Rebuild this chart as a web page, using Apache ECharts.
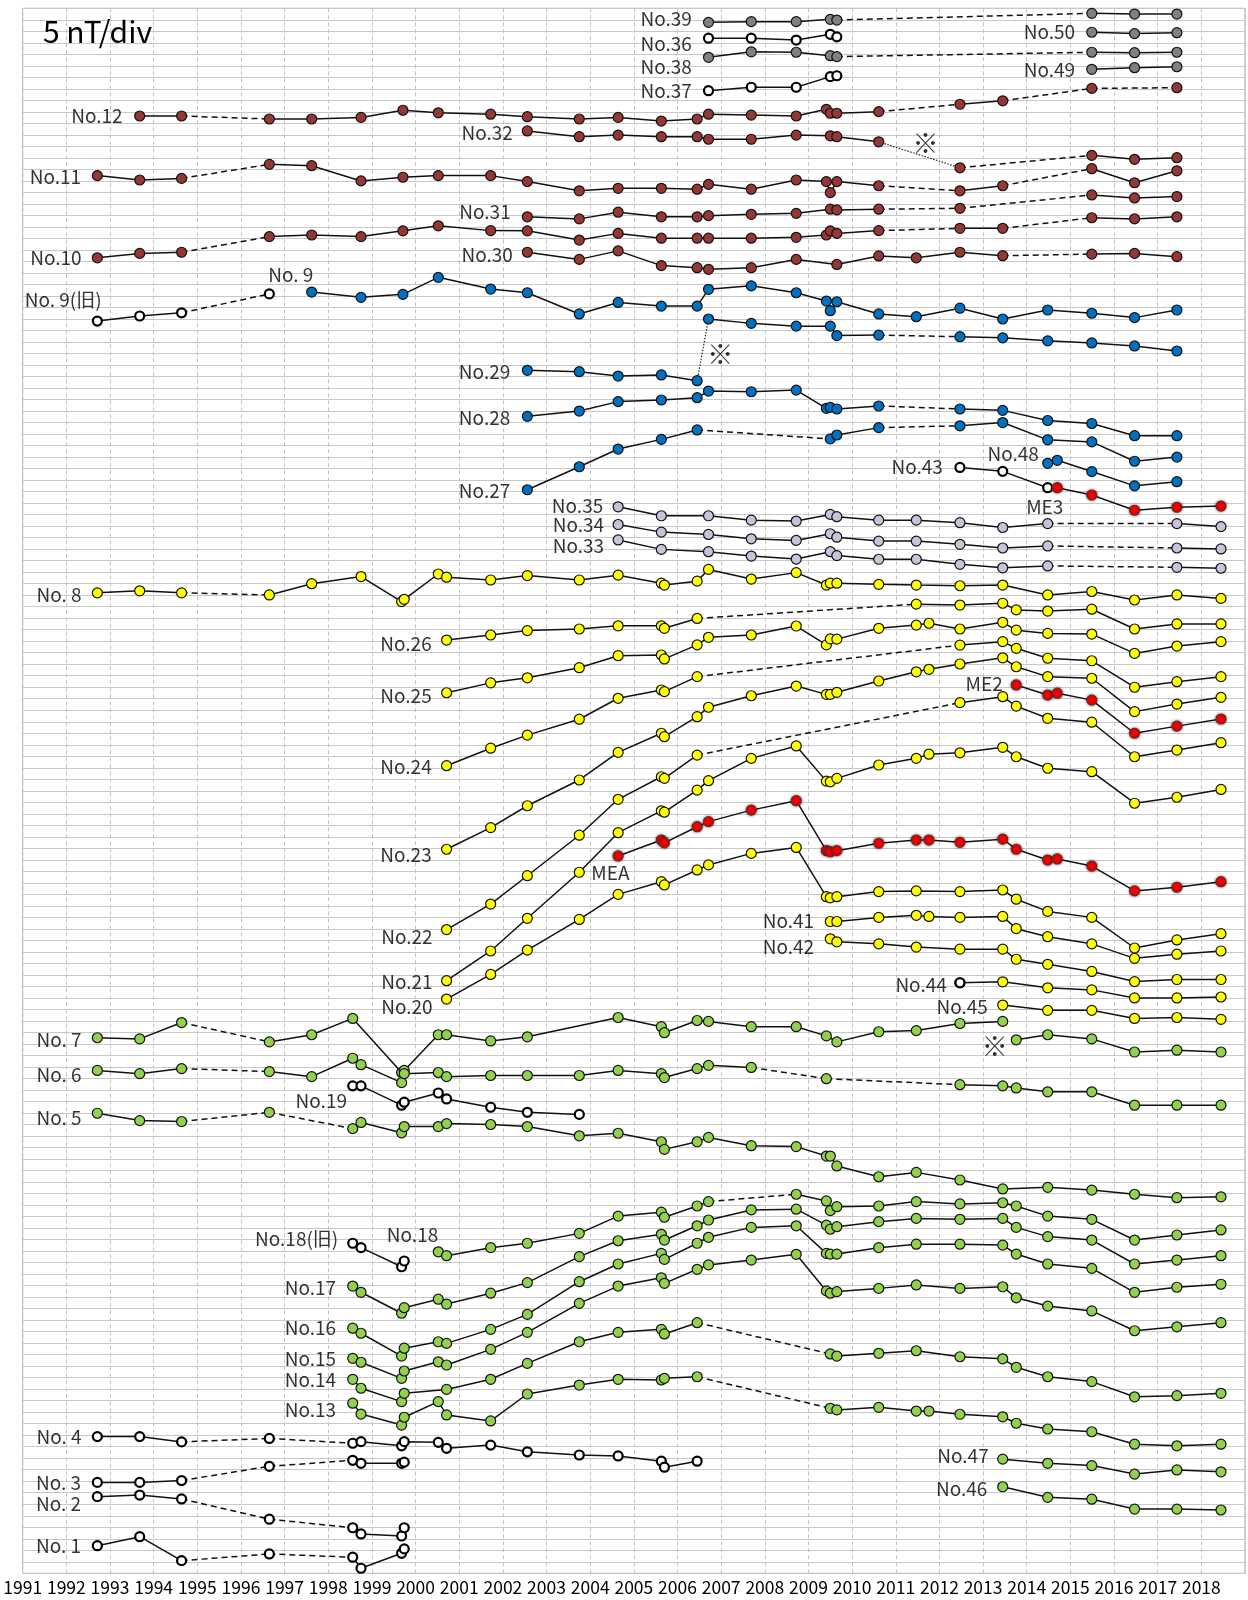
<!DOCTYPE html>
<html>
<head>
<meta charset="utf-8">
<script src="https://cdn.jsdelivr.net/npm/echarts@6/dist/echarts.min.js"></script>
<style>
  html, body { margin: 0; background: #fff; }
  #chart { width: 1248px; height: 1600px; }
</style>
</head>
<body>
<div id="chart"></div>
<script>
// '-' = dashed link over missing years, ':' = dotted link, 'x' = no link
const no39 = [[2006.71,673.9],[2007.69,674.2],[2008.72,674.2],[2009.50,675.2],[2009.65,674.9],'-',[2015.49,677.8],[2016.47,677.5],[2017.44,677.5]]
const no36 = [[2006.71,667.0],[2007.69,667.0],[2008.72,666.2],[2009.50,668.7],[2009.65,667.6]]
const no50 = [[2015.49,669.6],[2016.47,669.0],[2017.44,669.4]]
const no38 = [[2006.71,658.7],[2007.69,661.1],[2008.72,660.9],[2009.50,659.4],[2009.65,659.0],'-',[2015.49,660.9],[2016.47,660.7],[2017.44,660.9]]
const no49 = [[2015.49,653.5],[2016.47,654.2],[2017.44,654.6]]
const no37 = [[2006.71,644.2],[2007.69,645.7],[2008.72,645.7],[2009.50,650.3],[2009.65,650.7]]

const no12 = [[1993.68,633.2],[1994.64,633.2],'-',[1996.65,631.9],[1997.62,631.9],[1998.75,632.6],[1999.71,635.7],[2000.52,634.6],[2001.72,634.0],[2002.56,632.9],[2003.75,631.9],[2004.64,632.6],[2005.63,631.0],[2006.45,631.9],[2006.71,634.0],[2007.69,633.6],[2008.72,633.2],[2009.41,636.1],[2009.50,634.4],[2009.65,634.4],[2010.61,635.1],'-',[2012.47,638.3],[2013.45,639.8],'-',[2015.49,645.2],'-',[2017.44,645.5]]
const no32 = [[2002.56,626.7],[2003.75,624.2],[2004.64,624.9],[2005.63,624.2],[2006.45,624.2],[2006.71,623.1],[2007.69,623.1],[2008.72,624.9],[2009.50,624.6],[2009.65,624.2],[2010.61,622.0],':',[2012.47,610.7],'-',[2015.49,616.1],[2016.47,614.4],[2017.44,615.1]]
const no11 = [[1992.71,607.3],[1993.68,605.4],[1994.64,606.1],'-',[1996.65,612.2],[1997.62,611.6],[1998.75,605.0],[1999.71,606.6],[2000.52,607.3],[2001.72,607.3],[2002.56,604.7],[2003.75,600.7],[2004.64,601.8],[2005.63,601.8],[2006.45,601.4],[2006.71,603.5],[2007.69,601.4],[2008.72,605.4],[2009.41,604.7],[2009.50,599.9],[2009.65,604.7],[2010.61,602.9],'-',[2012.47,600.7],[2013.45,602.9],'-',[2015.49,610.3],[2016.47,604.2],[2017.44,609.4]]
const no31 = [[2002.56,589.4],[2003.75,588.5],[2004.64,591.4],[2005.63,589.4],[2006.45,589.4],[2006.71,589.9],[2007.69,590.5],[2008.72,590.9],[2009.50,592.7],[2009.65,592.4],[2010.61,592.7],'-',[2012.47,593.1],'-',[2015.49,598.9],[2016.47,597.6],[2017.44,598.2]]
const no10 = [[1992.71,571.6],[1993.68,573.5],[1994.64,574.0],'-',[1996.65,580.8],[1997.62,581.5],[1998.75,580.8],[1999.71,583.3],[2000.52,585.5],[2001.72,583.4],[2002.56,583.3],[2003.75,579.3],[2004.64,582.2],[2005.63,580.1],[2006.45,580.1],[2006.71,580.1],[2007.69,580.1],[2008.72,580.5],[2009.41,581.5],[2009.50,583.3],[2009.65,582.2],[2010.61,583.4],'-',[2012.47,584.4],[2013.45,584.4],'-',[2015.49,589.0],[2016.47,588.5],[2017.44,589.4]]
const no30 = [[2002.56,574.0],[2003.75,570.9],[2004.64,574.6],[2005.63,568.2],[2006.45,567.3],[2006.71,566.6],[2007.69,567.3],[2008.72,570.9],[2009.65,568.7],[2010.61,572.4],[2011.47,571.6],[2012.47,574.0],[2013.45,572.5],'-',[2015.49,573.2],[2016.47,573.5],[2017.44,572.1]]

const no9old = [[1992.71,544.1],[1993.68,546.3],[1994.64,547.7],'-',[1996.65,555.9]]
const no9 = [[1997.62,556.7],[1998.75,554.4],[1999.71,555.7],[2000.52,563.1],[2001.72,558.0],[2002.56,556.4],[2003.75,547.2],[2004.64,552.2],[2005.63,550.6],[2006.45,550.6],[2006.71,557.9],[2007.69,559.4],[2008.72,556.4],[2009.41,552.8],[2009.50,548.6],[2009.65,552.5],[2010.61,547.2],[2011.47,546.0],[2012.47,549.7],[2013.45,545.0],[2014.48,548.9],[2015.49,547.5],[2016.47,545.6],[2017.44,548.9]]
const no29 = [[2002.56,522.7],[2003.75,522.1],[2004.64,520.2],[2005.63,520.7],[2006.45,518.2],':',[2006.71,545.0],[2007.69,543.1],[2008.72,541.9],[2009.50,541.9],[2009.65,537.8],[2010.61,538.0],'-',[2012.47,537.3],[2013.45,536.8],[2014.48,535.5],[2015.49,534.6],[2016.47,533.3],[2017.44,531.1]]
const no28 = [[2002.56,502.7],[2003.75,505.0],[2004.64,509.1],[2005.63,509.8],[2006.45,510.8],[2006.71,513.7],[2007.69,513.4],[2008.72,514.1],[2009.41,506.2],[2009.50,506.6],[2009.65,505.9],[2010.61,507.2],'-',[2012.47,505.9],[2013.45,505.3],[2014.48,500.9],[2015.49,499.6],[2016.47,494.3],[2017.44,494.3]]
const no27 = [[2002.56,470.8],[2003.75,480.8],[2004.64,488.5],[2005.63,492.7],[2006.45,496.8],'-',[2009.50,492.9],[2009.65,494.6],[2010.61,497.8],'-',[2012.47,498.6],[2013.45,500.0],[2014.48,492.5],[2015.49,491.6],[2016.47,483.2],[2017.44,485.0]]
const no48 = [[2014.48,482.3],[2014.70,483.6],[2015.49,478.7],[2016.47,472.5],[2017.44,474.3]]
const no43 = [[2012.47,480.5],[2013.45,478.8],[2014.48,471.7]]
const me3 = [[2014.70,471.7],[2015.49,468.5],[2016.47,461.9],[2017.44,463.2],[2018.45,463.7]]

const no35 = [[2004.64,463.4],[2005.63,459.5],[2006.71,459.5],[2007.69,457.6],[2008.72,457.2],[2009.50,460.1],[2009.65,459.1],[2010.61,457.6],[2011.47,457.6],[2012.47,456.5],[2013.45,454.4],[2014.48,456.1],'-',[2017.44,456.1],[2018.45,454.8]]
const no34 = [[2004.64,455.7],[2005.63,452.4],[2006.71,451.4],[2007.69,449.5],[2008.72,448.8],[2009.50,451.7],[2009.65,450.2],[2010.61,448.5],[2011.47,448.5],[2012.47,447.1],[2013.45,445.5],[2014.48,446.4],'-',[2017.44,445.5],[2018.45,445.1]]
const no33 = [[2004.64,449.0],[2005.63,444.9],[2006.71,443.9],[2007.69,442.0],[2008.72,440.7],[2009.50,443.9],[2009.65,442.2],[2010.61,440.6],[2011.47,440.6],[2012.47,438.4],[2013.45,436.9],[2014.48,437.7],'-',[2017.44,437.1],[2018.45,436.7]]

const no8 = [[1992.71,426.0],[1993.68,426.9],[1994.64,426.0],'-',[1996.65,425.1],[1997.62,430.0],[1998.75,433.1],[1999.68,422.2],[1999.74,423.2],[2000.52,434.2],[2000.71,432.8],[2001.72,431.6],[2002.56,433.5],[2003.75,431.6],[2004.64,433.7],[2005.63,430.2],[2005.70,429.4],[2006.45,431.1],[2006.71,436.2],[2007.69,432.0],[2008.72,434.8],[2009.41,429.4],[2009.50,430.2],[2009.65,430.2],[2010.61,429.7],[2011.47,429.4],[2012.47,429.1],[2013.45,429.4],[2014.48,425.1],[2015.49,426.6],[2016.47,422.9],[2017.44,425.1],[2018.45,423.6]]
const no26 = [[2000.71,405.5],[2001.72,407.7],[2002.56,409.6],[2003.75,410.3],[2004.64,411.7],[2005.63,411.7],[2005.70,410.6],[2006.45,414.9],'-',[2011.47,421.1],[2012.47,420.7],[2013.45,421.5],[2013.76,418.6],[2014.48,418.1],[2015.49,418.9],[2016.47,410.3],[2017.44,412.5],[2018.45,412.5]]
const no25 = [[2000.71,382.6],[2001.72,386.9],[2002.56,389.1],[2003.75,393.5],[2004.64,398.7],[2005.63,399.0],[2005.70,397.3],[2006.45,403.4],[2006.71,406.7],[2007.69,407.7],[2008.72,411.6],[2009.41,403.4],[2009.50,406.0],[2009.65,405.9],[2010.61,410.6],[2011.47,412.0],[2011.76,412.8],[2012.47,410.3],[2013.45,413.2],[2013.76,409.8],[2014.48,408.4],[2015.49,408.1],[2016.47,399.7],[2017.44,402.9],[2018.45,404.8]]
const no24 = [[2000.71,350.9],[2001.72,358.5],[2002.56,364.2],[2003.75,371.1],[2004.64,380.2],[2005.63,383.8],[2005.70,383.1],[2006.45,389.6],'-',[2012.47,403.3],[2013.45,404.8],[2013.76,401.9],[2014.48,397.6],[2015.49,396.5],[2016.47,385.0],[2017.44,387.4],[2018.45,389.6]]
const no23 = [[2000.71,314.6],[2001.72,324.0],[2002.56,333.5],[2003.75,344.7],[2004.64,356.7],[2005.63,365.0],[2005.70,363.5],[2006.45,372.2],[2006.71,376.3],[2007.69,381.3],[2008.72,385.5],[2009.41,381.9],[2009.50,381.9],[2009.65,382.8],[2010.61,387.7],[2011.47,391.7],[2011.76,392.8],[2012.47,395.1],[2013.45,397.8],[2013.76,393.9],[2014.48,389.6],[2015.49,388.9],[2016.47,374.4],[2017.44,377.7],[2018.45,380.6]]
const me2 = [[2013.76,386.0],[2014.48,381.6],[2014.70,382.4],[2015.49,379.4],[2016.47,365.0],[2017.44,368.1],[2018.45,371.2]]
const no22 = [[2000.71,279.7],[2001.72,290.8],[2002.56,303.1],[2003.75,320.7],[2004.64,336.3],[2005.63,346.1],[2005.70,345.4],[2006.45,355.5],'-',[2012.47,378.3],[2013.45,380.9],[2013.76,376.8],[2014.48,371.5],[2015.49,369.8],[2016.47,354.8],[2017.44,357.7],[2018.45,360.9]]
const no21 = [[2000.71,257.5],[2001.72,270.4],[2002.56,284.6],[2003.75,304.6],[2004.64,321.8],[2005.63,331.3],[2005.70,330.7],[2006.45,340.3],[2006.71,344.4],[2007.69,354.1],[2008.72,359.5],[2009.41,344.2],[2009.50,343.9],[2009.65,345.4],[2010.61,351.2],[2011.47,354.1],[2011.76,355.9],[2012.47,356.5],[2013.45,358.9],[2013.76,354.8],[2014.48,349.8],[2015.49,348.3],[2016.47,334.6],[2017.44,337.2],[2018.45,340.6]]
const mea = [[2004.64,311.7],[2005.63,318.6],[2005.70,317.4],[2006.45,324.4],[2006.71,326.6],[2007.69,331.6],[2008.72,335.7],[2009.41,314.0],[2009.50,313.5],[2009.65,314.0],[2010.61,317.2],[2011.47,318.6],[2011.76,318.6],[2012.47,317.6],[2013.45,319.0],[2013.76,314.6],[2014.48,309.9],[2014.70,310.4],[2015.49,307.3],[2016.47,296.5],[2017.44,298.1],[2018.45,300.5]]
const no20 = [[2000.71,249.5],[2001.72,260.2],[2002.56,270.8],[2003.75,284.1],[2004.64,295.0],[2005.63,300.5],[2005.70,299.1],[2006.45,305.6],[2006.71,307.8],[2007.69,312.8],[2008.72,315.4],[2009.41,294.0],[2009.50,293.5],[2009.65,294.0],[2010.61,296.2],[2011.47,296.5],[2012.47,296.2],[2013.45,296.9],[2013.76,292.9],[2014.48,287.6],[2015.49,285.0],[2016.47,271.7],[2017.44,275.2],[2018.45,277.9]]
const no41 = [[2009.50,283.2],[2009.65,283.2],[2010.61,285.0],[2011.47,285.9],[2011.76,285.4],[2012.47,285.0],[2013.45,285.4],[2013.76,280.1],[2014.48,276.6],[2015.49,273.5],[2016.47,267.2],[2017.44,269.0],[2018.45,270.4]]
const no42 = [[2009.50,275.7],[2009.65,274.4],[2010.61,273.5],[2011.47,272.1],[2012.47,271.2],[2013.45,271.2],[2013.76,266.8],[2014.48,264.6],[2015.49,261.5],[2016.47,257.1],[2017.44,258.0],[2018.45,258.0]]
const no44 = [[2012.47,256.6],[2013.45,257.0],[2014.48,254.4],[2015.49,253.5],[2016.47,250.0],[2017.44,250.0],[2018.45,250.4]]
const no44first = [[2012.47,256.6]]
const no45 = [[2013.45,246.9],[2014.48,244.6],[2015.49,244.6],[2016.47,241.1],[2017.44,241.5],[2018.45,240.7]]

const no7 = [[1992.71,232.7],[1993.68,232.2],[1994.64,239.3],'-',[1996.65,230.9],[1997.62,234.0],[1998.56,241.1],[1999.68,217.6],[1999.74,218.5],[2000.52,234.0],[2000.71,234.0],[2001.72,231.3],[2002.56,233.1],[2004.64,241.5],[2005.63,237.5],[2005.70,234.9],[2006.45,240.2],[2006.71,239.8],[2007.69,237.5],[2008.72,237.5],[2009.41,233.5],[2009.65,230.9],[2010.61,235.3],[2011.47,235.8],[2012.47,238.9],[2013.45,239.8],'x',[2013.76,231.8],[2014.48,234.0],[2015.49,232.2],[2016.47,226.5],[2017.44,227.3],[2018.45,226.5]]
const no6 = [[1992.71,218.5],[1993.68,217.1],[1994.64,219.3],'-',[1996.65,218.0],[1997.62,215.8],[1998.56,223.8],[1998.75,221.0],[1999.68,213.2],[1999.74,217.1],[2000.52,217.6],[2000.71,215.8],[2001.72,216.3],[2002.56,216.3],[2003.75,216.3],[2004.64,218.5],[2005.63,217.1],[2005.70,215.4],[2006.45,219.3],[2006.71,220.7],[2007.69,219.8],'-',[2009.41,214.9],'-',[2012.47,212.3],[2013.45,211.8],[2013.76,210.9],[2014.48,209.2],[2015.49,209.2],[2016.47,203.4],[2017.44,203.4],[2018.45,203.4]]
const no19 = [[1998.56,211.8],[1998.75,211.8],[1999.68,203.4],[1999.74,204.7],[2000.52,208.7],[2000.71,206.1],[2001.72,202.5],[2002.56,200.3],[2003.75,199.4]]
const no5 = [[1992.71,199.9],[1993.68,196.7],[1994.64,196.3],'-',[1996.65,200.3],'-',[1998.56,193.2],[1998.75,195.9],[1999.68,191.4],[1999.74,194.1],[2000.52,194.1],[2000.71,195.4],[2001.72,195.0],[2002.56,194.1],[2003.75,190.1],[2004.64,191.2],[2005.63,187.5],[2005.70,184.2],[2006.45,187.5],[2006.71,189.4],[2007.69,185.8],[2008.72,185.4],[2009.41,181.3],[2009.50,181.3],[2009.65,177.0],[2010.61,172.3],[2011.47,174.2],[2012.47,170.9],[2013.45,167.0],[2014.48,167.7],[2015.49,166.5],[2016.47,164.7],[2017.44,163.2],[2018.45,163.6]]
const no18old = [[1998.56,143.4],[1998.75,141.5],[1999.68,133.2],[1999.74,135.7]]
const no18 = [[2000.52,139.7],[2000.71,138.0],[2001.72,141.5],[2002.56,143.4],[2003.75,147.7],[2004.64,155.2],[2005.63,156.9],[2005.70,154.7],[2006.45,159.6],[2006.71,161.5],'-',[2008.72,164.7],[2009.41,161.8],[2009.50,157.6],[2009.65,159.3],[2010.61,159.6],[2011.47,161.5],[2012.47,160.5],[2013.45,161.0],[2013.76,159.6],[2014.48,155.2],[2015.49,153.8],[2016.47,144.8],[2017.44,147.0],[2018.45,149.2]]
const no17 = [[1998.56,124.8],[1998.75,122.1],[1999.68,113.0],[1999.74,115.4],[2000.52,119.1],[2000.71,117.0],[2001.72,121.7],[2002.56,126.3],[2003.75,137.6],[2004.64,144.5],[2005.63,147.3],[2005.70,144.8],[2006.45,151.0],[2006.71,153.5],[2007.69,157.9],[2008.72,158.2],[2009.41,151.3],[2009.50,149.5],[2009.65,150.6],[2010.61,152.8],[2011.47,154.2],[2012.47,153.8],[2013.45,154.2],[2013.76,150.3],[2014.48,146.3],[2015.49,144.8],[2016.47,134.4],[2017.44,136.1],[2018.45,138.0]]
const no16 = [[1998.56,106.5],[1998.75,104.3],[1999.68,94.4],[1999.74,97.8],[2000.52,100.6],[2000.71,99.9],[2001.72,106.0],[2002.56,112.5],[2003.75,126.7],[2004.64,134.4],[2005.63,139.0],[2005.70,136.4],[2006.45,143.4],[2006.71,146.0],[2007.69,150.3],[2008.72,151.0],[2009.41,139.0],[2009.50,138.7],[2009.65,138.7],[2010.61,141.5],[2011.47,143.0],[2012.47,143.0],[2013.45,142.6],[2013.76,138.7],[2014.48,134.4],[2015.49,132.5],[2016.47,122.1],[2017.44,124.3],[2018.45,125.6]]
const no15 = [[1998.56,93.4],[1998.75,91.7],[1999.68,84.7],[1999.74,87.9],[2000.52,91.9],[2000.71,90.5],[2001.72,97.3],[2002.56,104.7],[2003.75,117.3],[2004.64,124.8],[2005.63,128.4],[2005.70,126.0],[2006.45,132.1],[2006.71,134.0],[2007.69,136.1],[2008.72,138.6],[2009.41,122.7],[2009.50,121.7],[2009.65,122.4],[2010.61,123.8],[2011.47,125.3],[2012.47,123.8],[2013.45,124.5],[2013.76,119.7],[2014.48,116.1],[2015.49,114.0],[2016.47,105.4],[2017.44,107.1],[2018.45,108.9]]
const no14 = [[1998.56,84.3],[1998.75,80.4],[1999.68,74.6],[1999.74,78.2],[2000.71,79.9],[2001.72,84.3],[2002.56,91.2],[2003.75,100.6],[2004.64,104.7],[2005.63,106.0],[2005.70,104.0],[2006.45,108.9],'-',[2009.50,95.3],[2009.65,94.4],[2010.61,95.6],[2011.47,96.7],[2012.47,94.1],[2013.45,93.2],[2013.76,89.5],[2014.48,85.4],[2015.49,83.3],[2016.47,76.7],[2017.44,77.2],[2018.45,78.2]]
const no13 = [[1998.56,73.9],[1998.75,69.2],[1999.68,64.4],[1999.74,67.8],[2000.52,74.6],[2000.71,68.8],[2001.72,66.2],[2002.56,77.9],[2003.75,81.8],[2004.64,84.3],[2005.63,84.0],[2005.70,84.7],[2006.45,85.4],'-',[2009.50,71.7],[2009.65,71.0],[2010.61,72.1],[2011.47,70.5],[2011.76,70.5],[2012.47,69.1],[2013.45,68.0],[2013.76,65.2],[2014.48,62.7],[2015.49,61.5],[2016.47,56.1],[2017.44,55.4],[2018.45,56.1]]
const no4 = [[1992.71,59.4],[1993.68,59.4],[1994.64,57.1],'-',[1996.65,58.6],'-',[1998.56,56.5],[1998.75,57.2],[1999.68,55.4],[1999.74,57.2],[2000.52,56.9],[2000.71,54.3],[2001.72,55.7],[2002.56,52.8],[2003.75,51.4],[2004.64,51.0],[2005.63,48.7],[2005.70,46.1],[2006.45,48.7]]
const no3 = [[1992.71,39.5],[1993.68,39.5],[1994.64,40.3],'-',[1996.65,46.5],'-',[1998.56,49.1],[1998.75,47.8],[1999.68,47.8],[1999.74,48.3]]
const no2 = [[1992.71,33.3],[1993.68,34.0],[1994.64,32.3],'-',[1996.65,23.5],'-',[1998.56,19.8],[1998.75,17.1],[1999.68,16.2],[1999.74,19.8]]
const no1 = [[1992.71,12.0],[1993.68,15.9],[1994.64,5.5],'-',[1996.65,8.4],'-',[1998.56,7.0],[1998.75,2.2],[1999.68,8.7],[1999.74,10.6]]
const no47 = [[2013.45,49.6],[2014.48,47.8],[2015.49,46.8],[2016.47,43.1],[2017.44,44.9],[2018.45,44.1]]
const no46 = [[2013.45,37.6],[2014.48,33.0],[2015.49,32.2],[2016.47,27.9],[2017.44,27.9],[2018.45,27.5]]

const stations = [
  [no39, 'gray'], [no36, 'open'], [no50, 'gray'], [no38, 'gray'], [no49, 'gray'], [no37, 'open'],
  [no12, 'brown'], [no32, 'brown'], [no11, 'brown'], [no31, 'brown'], [no10, 'brown'], [no30, 'brown'],
  [no9old, 'open'], [no9, 'blue'], [no29, 'blue'], [no28, 'blue'], [no27, 'blue'], [no48, 'blue'],
  [no43, 'open'], [me3, 'red'], [no35, 'lav'], [no34, 'lav'], [no33, 'lav'],
  [no8, 'yellow'], [no26, 'yellow'], [no25, 'yellow'], [no24, 'yellow'], [no23, 'yellow'], [me2, 'red'],
  [no22, 'yellow'], [no21, 'yellow'], [mea, 'red'], [no20, 'yellow'], [no41, 'yellow'], [no42, 'yellow'],
  [no44, 'yellow'], [no44first, 'open'], [no45, 'yellow'],
  [no7, 'green'], [no6, 'green'], [no19, 'open'], [no5, 'green'], [no18old, 'open'], [no18, 'green'],
  [no17, 'green'], [no16, 'green'], [no15, 'green'], [no14, 'green'], [no13, 'green'],
  [no4, 'open'], [no3, 'open'], [no2, 'open'], [no1, 'open'], [no47, 'green'], [no46, 'green'],
]

// station names, anchored at the right end of the text
const labels = [
  ['No.39', 2006.33, 675.3], ['No.36', 2006.33, 664.8], ['No.38', 2006.33, 654.6], ['No.37', 2006.33, 644.1],
  ['No.50', 2015.11, 669.9], ['No.49', 2015.11, 653.2],
  ['No.12', 1993.29, 633.3], ['No.32', 2002.23, 625.7], ['No.11', 1992.34, 606.8], ['No.31', 2002.18, 591.6],
  ['No.10', 1992.35, 571.5], ['No.30', 2002.23, 572.8],
  ['No. 9', 1997.66, 564.1], ['No. 9(旧)', 1992.81, 553.2],
  ['No.29', 2002.17, 522.2], ['No.28', 2002.17, 502.2], ['No.27', 2002.17, 470.3],
  ['No.43', 2012.08, 481.0], ['No.48', 2014.28, 486.3], ['ME3', 2014.84, 463.2],
  ['No.35', 2004.30, 463.8], ['No.34', 2004.32, 455.6], ['No.33', 2004.32, 446.3],
  ['No. 8', 1992.35, 425.1],
  ['No.26', 2000.37, 403.9], ['No.25', 2000.37, 381.1], ['No.24', 2000.37, 350.5], ['No.23', 2000.37, 312.1],
  ['ME2', 2013.45, 386.3], ['MEA', 2004.90, 304.4],
  ['No.22', 2000.39, 276.6], ['No.21', 2000.39, 257.1], ['No.20', 2000.39, 246.0],
  ['No.41', 2009.13, 283.7], ['No.42', 2009.13, 272.1], ['No.44', 2012.17, 255.7], ['No.45', 2013.11, 246.0],
  ['No. 7', 1992.35, 231.8], ['No. 6', 1992.35, 216.7], ['No.19', 1998.43, 205.2], ['No. 5', 1992.35, 198.1],
  ['No.18(旧)', 1998.23, 145.2], ['No.18', 2000.52, 147.0],
  ['No.17', 1998.18, 124.1], ['No.16', 1998.18, 106.5], ['No.15', 1998.18, 93.4], ['No.14', 1998.18, 84.0], ['No.13', 1998.18, 71.2],
  ['No. 4', 1992.35, 59.3], ['No. 3', 1992.34, 39.5], ['No. 2', 1992.34, 30.4], ['No. 1', 1992.34, 11.9],
  ['No.47', 2013.13, 50.9], ['No.46', 2013.10, 36.6],
]
const notes = [[2011.68, 621.5], [2006.98, 529.7], [2013.27, 229.1]]

const FONT = '"Noto Sans CJK JP", "Noto Sans", sans-serif'
const FILL = {
  open: '#ffffff', gray: '#808080', brown: '#953735', blue: '#0070c0',
  lav: '#ccc0da', yellow: '#ffff00', red: '#ff0000', green: '#92d050',
}

const series = []
const dashed = []
const dotted = []

stations.forEach(([pts, kind]) => {
  const solid = []
  let prev = null
  let gap = null
  pts.forEach((p) => {
    if (typeof p === 'string') {
      gap = p
      solid.push([null, null])
      return
    }
    if (gap && prev) {
      if (gap === '-') dashed.push(prev, p, [null, null])
      if (gap === ':') dotted.push(prev, p, [null, null])
    }
    solid.push(p)
    prev = p
    gap = null
  })
  const item =
    kind === 'open'
      ? { color: '#ffffff', borderColor: '#000', borderWidth: 2.2 }
      : kind === 'red'
      ? { color: '#ff0000', borderColor: '#6a2a2a', borderWidth: 1.2, shadowBlur: 3, shadowColor: 'rgba(0,0,0,0.5)' }
      : { color: FILL[kind], borderColor: '#111', borderWidth: 1.2 }
  series.push({
    type: 'line',
    data: solid,
    z: 3,
    symbol: 'circle',
    symbolSize: kind === 'open' ? 9 : 10,
    showAllSymbol: true,
    connectNulls: false,
    lineStyle: { color: '#111', width: 1.5 },
    itemStyle: item,
    emphasis: { disabled: true },
  })
})

series.push({
  type: 'line', data: dashed, z: 2, symbol: 'none', connectNulls: false,
  lineStyle: { color: '#111', width: 1.5, type: [6, 4] },
})
series.push({
  type: 'line', data: dotted, z: 2, symbol: 'none', connectNulls: false,
  lineStyle: { color: '#222', width: 1.2, type: [1.5, 1.5] },
})
series.push({
  type: 'scatter', z: 4, symbolSize: 0.1, silent: true,
  data: labels.map(([name, x, y]) => ({ name, value: [x, y] })),
  label: {
    show: true, position: 'left', distance: 0, formatter: '{b}',
    color: '#000', fontSize: 19, fontFamily: FONT,
  },
})
series.push({
  type: 'scatter', z: 4, symbolSize: 0.1, silent: true,
  data: notes.map((v) => ({ name: '※', value: v })),
  label: {
    show: true, position: 'inside', formatter: '{b}',
    color: '#000', fontSize: 26, fontFamily: FONT,
  },
})

const chart = echarts.init(document.getElementById('chart'), null, { renderer: 'canvas' })
chart.setOption({
  animation: false,
  backgroundColor: '#fff',
  title: {
    text: '5 nT/div', left: 38, top: 12,
    textStyle: { fontSize: 30, fontWeight: 'normal', fontFamily: FONT, color: '#000' },
  },
  grid: { left: 22.7, right: 3, top: 8.3, bottom: 26.7, show: true, borderColor: '#a8a8a8', borderWidth: 1 },
  xAxis: {
    type: 'value', min: 1991, max: 2019, interval: 1,
    axisLine: { show: false }, axisTick: { show: false },
    axisLabel: {
      margin: 5, fontSize: 17.5, color: '#000', fontFamily: FONT,
      formatter: (v) => (v >= 2019 ? '' : String(v)),
    },
    splitLine: { show: true, lineStyle: { color: '#c4c4c4', width: 1, type: [4, 3] } },
  },
  yAxis: {
    type: 'value', min: 0, max: 680, interval: 5,
    axisLine: { show: false }, axisTick: { show: false }, axisLabel: { show: false },
    splitLine: { show: true, lineStyle: { color: '#c8c8c8', width: 1 } },
  },
  series,
})
</script>
</body>
</html>
